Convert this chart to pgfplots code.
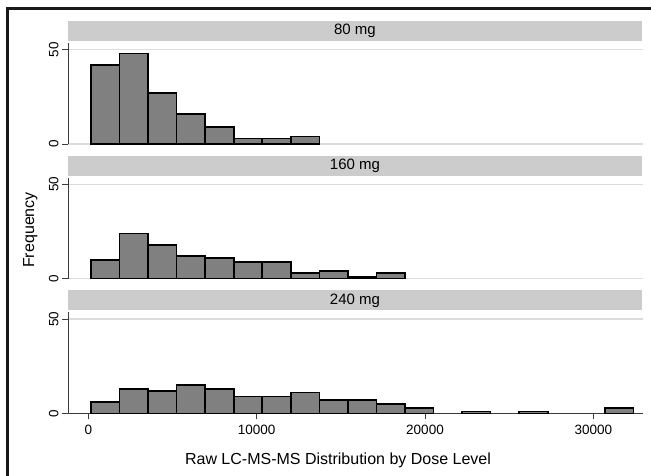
\documentclass[border=0pt]{standalone}
\usepackage{fontspec}
\setmainfont{Liberation Sans}
\usepackage{pgfplots}
\pgfplotsset{compat=1.18}

\definecolor{barfill}{RGB}{128,128,128}
\definecolor{stripgray}{RGB}{204,204,204}
\definecolor{gridgray}{RGB}{220,220,220}
\definecolor{axisgray}{RGB}{60,60,60}

\pgfplotsset{
  panel/.style={
    scale only axis, width=575pt, height=101pt,
    xmin=-1212, xmax=32953, ymin=0, ymax=53.5,
    axis x line*=bottom, axis y line*=left,
    ytick={0,50}, ymajorgrids,
    scaled x ticks=false,
    grid style={gridgray, line width=1.4pt},
    tick align=outside, major tick length=6pt,
    tick style={axisgray, line width=0.7pt},
    axis line style={axisgray, line width=0.7pt, -},
    yticklabel style={rotate=90, anchor=south, font=\fontsize{13.5}{15}\selectfont},
    xticklabel style={font=\fontsize{13.5}{15}\selectfont, yshift=-2pt},
    /pgf/number format/.cd, 1000 sep={}, assume math mode=true, /pgfplots/.cd,
    clip=false,
  },
  bars/.style={ybar interval, fill=barfill, draw=black, line width=1.6pt},
}

\begin{document}
\begin{tikzpicture}[x=1pt, y=1pt]
\path[use as bounding box] (0,0) rectangle (651,476);

% 80 mg
\begin{axis}[panel, at={(68pt,332pt)}, anchor=south west, hide x axis]
  \addplot[bars] coordinates {
    (155,42) (1851,48) (3547,27) (5243,16) (6939,9) (8635,3) (10331,3) (12027,4) (13723,0)
  };
\end{axis}
\fill[stripgray] (68,435.3) rectangle (642,455.3);
\node[font=\fontsize{15}{18}\selectfont] at (355,445.3) {80 mg};

% 160 mg
\begin{axis}[panel, at={(68pt,197.3pt)}, anchor=south west, hide x axis]
  \addplot[bars] coordinates {
    (155,10) (1851,24) (3547,18) (5243,12) (6939,11) (8635,9) (10331,9) (12027,3)
    (13723,4) (15419,1) (17115,3) (18811,0)
  };
\end{axis}
\fill[stripgray] (68,300.3) rectangle (642,320.3);
\node[font=\fontsize{15}{18}\selectfont] at (355,310.3) {160 mg};

% 240 mg
\begin{axis}[panel, at={(68pt,62.6pt)}, anchor=south west, xtick={0,10000,20000,30000}]
  \addplot[bars] coordinates {
    (155,6) (1851,13) (3547,12) (5243,15) (6939,13) (8635,9) (10331,9) (12027,11)
    (13723,7) (15419,7) (17115,5) (18811,3) (20507,0)
  };
  \addplot[bars] coordinates {(22203,1) (23899,0)};
  \addplot[bars] coordinates {(25595,1) (27291,0)};
  \addplot[bars] coordinates {(30683,3) (32379,0)};
\end{axis}
\fill[stripgray] (68,165.6) rectangle (642,185.6);
\node[font=\fontsize{15}{18}\selectfont] at (355,175.6) {240 mg};

% titles
\node[rotate=90, anchor=base, font=\fontsize{16}{19}\selectfont] at (34,246) {Frequency};
\node[anchor=base, font=\fontsize{16}{19}\selectfont] at (338,11.3) {Raw LC-MS-MS Distribution by Dose Level};

% frame
\draw[black!90, line width=3pt] (7.5,0) -- (7.5,467.7) -- (651,467.7);
\end{tikzpicture}
\end{document}
